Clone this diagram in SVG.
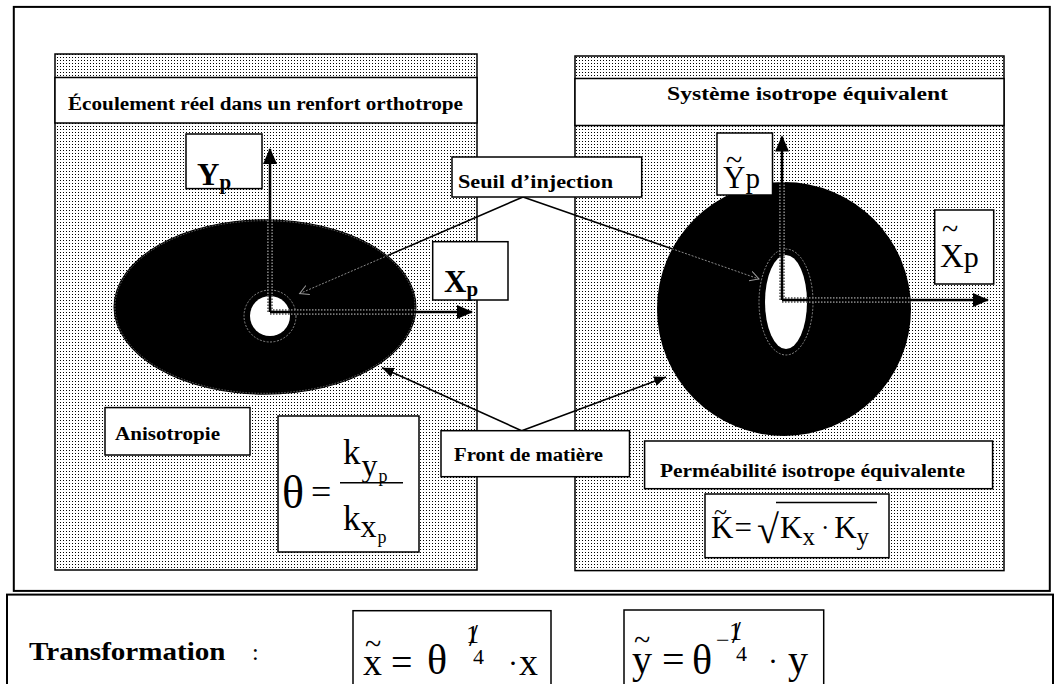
<svg xmlns="http://www.w3.org/2000/svg" width="1055" height="684" viewBox="0 0 1055 684">
<defs>
  <pattern id="dots" width="3" height="3" patternUnits="userSpaceOnUse">
    <rect width="3" height="3" fill="#fff"/>
    <rect width="1" height="1" fill="#000"/>
  </pattern>
  <marker id="ah" markerUnits="userSpaceOnUse" markerWidth="18" markerHeight="16" refX="15" refY="7" orient="auto">
    <path d="M0,0 L16,7 L0,14 Z" fill="#000"/>
  </marker>
  <marker id="ahs" markerUnits="userSpaceOnUse" markerWidth="14" markerHeight="12" refX="12" refY="5" orient="auto">
    <path d="M0,0 L12,5 L0,10 Z" fill="#000"/>
  </marker>
  <marker id="ahg" markerUnits="userSpaceOnUse" markerWidth="12" markerHeight="12" refX="9" refY="5" orient="auto">
    <path d="M0,0 L9,5 L0,10" fill="none" stroke="#999" stroke-width="1"/>
  </marker>
  <clipPath id="clipL"><ellipse cx="265" cy="307" rx="151.5" ry="87.7"/></clipPath>
  <clipPath id="clipR"><circle cx="784" cy="309" r="127"/></clipPath>
</defs>
<style>
  .frame{fill:none;stroke:#000;stroke-width:2}
  .box{fill:#fff;stroke:#000;stroke-width:1.5}
  .panel{fill:url(#dots);stroke:#000;stroke-width:1.5}
  .hdr{fill:#fff;stroke:#000;stroke-width:1.5}
  .lbl{font-family:"Liberation Serif",serif;font-weight:bold;font-size:18px;fill:#000}
  .m{font-family:"Liberation Serif",serif;fill:#000}
  .mb{font-family:"Liberation Serif",serif;font-weight:bold;fill:#000}
  .conn{stroke:#000;stroke-width:1.6;fill:none}
  .ghost{stroke:#888;stroke-width:1;stroke-dasharray:2 1.5;fill:none}
  .axis{stroke:#000;stroke-width:2.5;fill:none}
  .halo{stroke:#777;stroke-width:6;fill:none;stroke-dasharray:1.5 1.5}
</style>

<!-- frames -->
<g id="frames">
  <rect class="frame" x="13.8" y="6.9" width="1036" height="584"/>
  <rect class="frame" x="7" y="594.6" width="1046" height="100"/>
</g>

<!-- left panel -->
<g id="panel-left">
  <rect class="panel" x="55" y="54" width="422" height="516"/>
  <rect class="hdr" x="55" y="77.5" width="422" height="45.5"/>
  <text class="lbl" x="68" y="109.5" textLength="395" lengthAdjust="spacingAndGlyphs">Écoulement réel dans un renfort orthotrope</text>
</g>

<!-- right panel -->
<g id="panel-right">
  <rect class="panel" x="575" y="56" width="429" height="514.6"/>
  <rect class="hdr" x="575" y="78.5" width="429" height="47"/>
  <text class="lbl" x="667" y="100" textLength="281" lengthAdjust="spacingAndGlyphs">Système isotrope équivalent</text>
</g>

<!-- left flow front -->
<g id="front-left">
  <ellipse cx="265" cy="307" rx="151.5" ry="87.7" fill="#000"/>
  <ellipse cx="265" cy="307" rx="150" ry="86.3" fill="none" stroke="#666" stroke-width="1" stroke-dasharray="1.5 1.5"/>
  <circle cx="270" cy="316" r="26" fill="none" stroke="#888" stroke-width="1" stroke-dasharray="2 1.5"/>
  <circle cx="270" cy="316" r="20" fill="#fff"/>
</g>

<!-- right flow front -->
<g id="front-right">
  <circle cx="784" cy="309" r="127" fill="#000"/>
  <ellipse cx="786" cy="302" rx="27" ry="53" fill="none" stroke="#888" stroke-width="1" stroke-dasharray="2 1.5"/>
  <ellipse cx="786" cy="302" rx="21" ry="47" fill="#fff"/>
</g>

<!-- axes -->
<g id="axes">
  <g clip-path="url(#clipL)">
    <line class="halo" x1="270" y1="312" x2="270" y2="150"/>
    <line class="halo" x1="270" y1="312" x2="460" y2="312"/>
  </g>
  <line class="axis" x1="270" y1="312" x2="270" y2="149" marker-end="url(#ah)"/>
  <line class="axis" x1="270" y1="312" x2="472" y2="312" marker-end="url(#ah)"/>
  <g clip-path="url(#clipR)">
    <line class="halo" x1="782" y1="300" x2="782" y2="140"/>
    <line class="halo" x1="782" y1="300" x2="980" y2="300"/>
  </g>
  <line class="axis" x1="782" y1="300" x2="782" y2="136.5" marker-end="url(#ah)"/>
  <line class="axis" x1="782" y1="300" x2="988" y2="300" marker-end="url(#ah)"/>
</g>

<!-- axis labels -->
<g id="label-Yp">
  <rect class="box" x="186" y="134" width="76" height="54.6"/>
  <text class="mb" x="197" y="185" font-size="31">Y<tspan font-size="21" dy="4">p</tspan></text>
</g>
<g id="label-Xp">
  <rect class="box" x="432.7" y="241.7" width="75.3" height="58.3"/>
  <text class="mb" x="444" y="292" font-size="31">X<tspan font-size="21" dy="4">p</tspan></text>
</g>
<g id="label-Yp-tilde">
  <rect class="box" x="717" y="133" width="55.5" height="62"/>
  <text class="m" x="726" y="170" font-size="30">~<tspan x="723" y="188" font-size="31">Y</tspan><tspan font-size="29">p</tspan></text>
</g>
<g id="label-Xp-tilde">
  <rect class="box" x="934.7" y="210" width="59" height="74"/>
  <text class="m" x="942" y="239" font-size="30">~<tspan x="940" y="267" font-size="33">X</tspan><tspan font-size="30">p</tspan></text>
</g>

<!-- connectors -->
<g id="connectors">
  <line class="conn" x1="523" y1="197" x2="299.6" y2="293.6"/>
  <line class="conn" x1="523" y1="197" x2="759" y2="279"/>
  <line class="conn" x1="521.7" y1="430.7" x2="382" y2="367.7" marker-end="url(#ahs)"/>
  <line class="conn" x1="521.7" y1="430.7" x2="666" y2="377" marker-end="url(#ahs)"/>
  <line class="ghost" clip-path="url(#clipL)" x1="523" y1="197" x2="299.6" y2="293.6" marker-end="url(#ahg)"/>
  <line class="ghost" clip-path="url(#clipR)" x1="523" y1="197" x2="759" y2="279" marker-end="url(#ahg)"/>
</g>

<!-- labels -->
<g id="label-seuil">
  <rect class="box" x="452" y="157" width="189.7" height="40"/>
  <text class="lbl" x="458" y="188" textLength="155" lengthAdjust="spacingAndGlyphs">Seuil d’injection</text>
</g>
<g id="label-front">
  <rect class="box" x="441" y="430.7" width="188.5" height="46"/>
  <text class="lbl" x="454" y="460.7" textLength="149" lengthAdjust="spacingAndGlyphs">Front de matière</text>
</g>
<g id="label-aniso">
  <rect class="box" x="105" y="407.6" width="145" height="47.4"/>
  <text class="lbl" x="115" y="439.6" textLength="105" lengthAdjust="spacingAndGlyphs">Anisotropie</text>
</g>
<g id="label-perm">
  <rect class="box" x="644.6" y="441" width="348" height="47.7"/>
  <text class="lbl" x="660" y="476.8" textLength="305" lengthAdjust="spacingAndGlyphs">Perméabilité isotrope équivalente</text>
</g>

<!-- theta formula -->
<g id="formula-theta">
  <rect class="box" x="278" y="416" width="141" height="136"/>
  <text class="m" x="282" y="508" font-size="46">θ</text>
  <text class="m" x="311" y="504" font-size="36">=</text>
  <line x1="340" y1="482.7" x2="403" y2="482.7" stroke="#000" stroke-width="1.5"/>
  <text class="m" x="343" y="463.7" font-size="35">k<tspan font-size="32" dx="1" dy="12">y</tspan><tspan font-size="18" dx="1" dy="6">p</tspan></text>
  <text class="m" x="343" y="530" font-size="35">k<tspan font-size="32" dx="0" dy="7">x</tspan><tspan font-size="18" dx="1" dy="6">p</tspan></text>
</g>

<!-- K formula -->
<g id="formula-K">
  <rect class="box" x="705" y="494" width="184" height="63.7"/>
  <text class="m" x="714" y="520" font-size="24">~<tspan x="711" y="538" font-size="31">K</tspan><tspan font-size="31" dx="1">=</tspan></text>
  <text class="m" x="757" y="543" font-size="40">√</text>
  <line x1="776" y1="502.4" x2="877" y2="502.4" stroke="#000" stroke-width="1.5"/>
  <text class="m" x="780" y="538" font-size="31">K<tspan font-size="25" dy="7">x</tspan><tspan font-size="25" dx="6" dy="-9">·</tspan><tspan font-size="31" dx="5" dy="2">K</tspan><tspan font-size="25" dy="7">y</tspan></text>
</g>

<!-- transformation -->
<g id="transformation">
  <text class="mb" x="29" y="660" font-size="26" textLength="196.5" lengthAdjust="spacingAndGlyphs">Transformation</text>
  <text class="m" x="252" y="660" font-size="24">:</text>
</g>
<g id="formula-x">
  <rect class="box" x="353" y="610.7" width="198" height="80"/>
  <text class="m" x="365" y="654" font-size="30">~<tspan x="363" y="675" font-size="38">x</tspan><tspan x="391" font-size="38">=</tspan><tspan x="427" y="674" font-size="42">θ</tspan><tspan x="466" y="643" font-size="26">1</tspan><tspan font-size="32" dx="-10" dy="3">/</tspan><tspan font-size="22" dx="-5" dy="18">4</tspan><tspan x="508" y="673" font-size="30">·</tspan><tspan x="519" y="675" font-size="38">x</tspan></text>
</g>
<g id="formula-y">
  <rect class="box" x="624" y="610" width="199.7" height="80"/>
  <text class="m" x="634" y="650" font-size="30">~<tspan x="632" y="673" font-size="40">y</tspan><tspan x="662" font-size="40">=</tspan><tspan x="692" y="674" font-size="42">θ</tspan><tspan x="716" y="648" font-size="24">−</tspan><tspan x="729" y="640" font-size="26">1</tspan><tspan font-size="32" dx="-10" dy="3">/</tspan><tspan font-size="22" dx="-5" dy="18">4</tspan><tspan x="768" y="671" font-size="30">·</tspan><tspan x="788" y="673" font-size="40">y</tspan></text>
</g>
</svg>
